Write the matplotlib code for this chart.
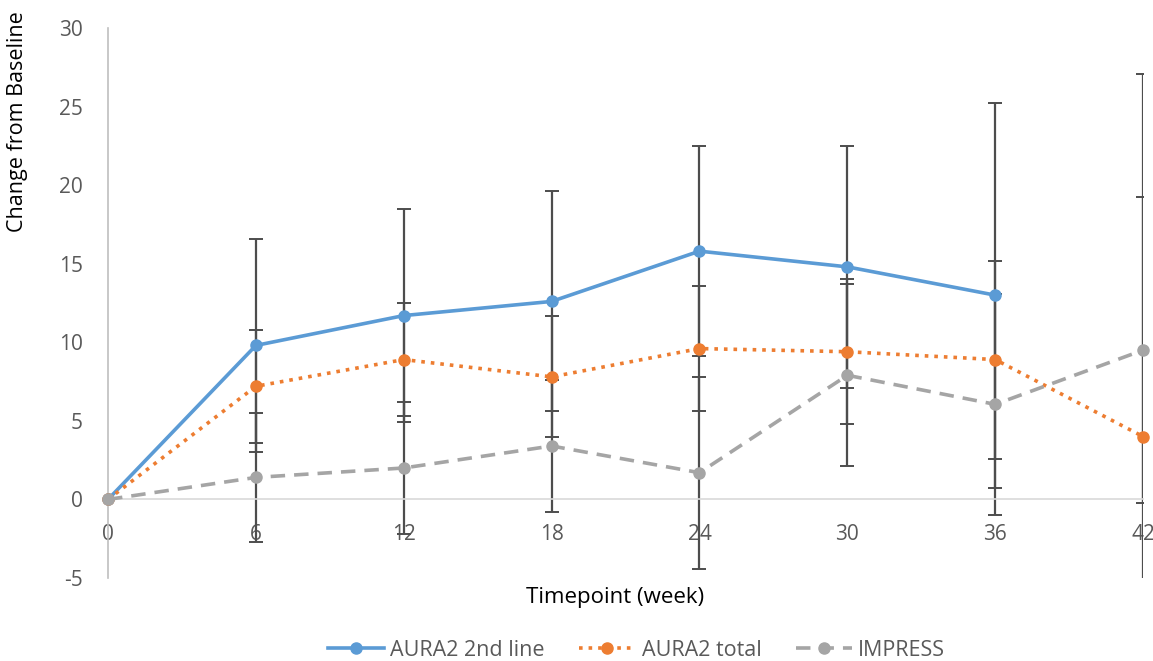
import matplotlib.pyplot as plt
import numpy as np

plt.rcParams['font.family'] = ['Open Sans', 'DejaVu Sans']
plt.rcParams['axes.unicode_minus'] = False

# semanas de seguimiento
semanas = [0, 6, 12, 18, 24, 30, 36, 42]

# AURA2 2nd line (no tiene dato en la semana 42)
aura2_2l     = [0, 9.8, 11.7, 12.6, 15.8, 14.8, 13.0]
aura2_2l_err = [0, 6.8, 6.8, 7.0, 6.7, 7.7, 12.25]

# AURA2 total
aura2_tot     = [0, 7.2, 8.9, 7.8, 9.6, 9.4, 8.9, 4.0]
aura2_tot_err = [0, 3.6, 3.6, 3.85, 4.0, 4.6, 6.3, 23.1]

# IMPRESS
impress     = [0, 1.4, 2.0, 3.4, 1.7, 7.9, 6.05, 9.5]
impress_err = [0, 4.1, 4.2, 4.2, 6.1, 5.8, 7.05, 9.75]

series = [
    ('AURA2 2nd line', aura2_2l, aura2_2l_err, '#5B9BD5', '-'),
    ('AURA2 total', aura2_tot, aura2_tot_err, '#ED7D31', ':'),
    ('IMPRESS', impress, impress_err, '#A5A5A5', (0, (4, 2.5))),
]

fig = plt.figure(figsize=(11.53, 6.61), dpi=100)
ax = fig.add_axes([0.0937, 0.1256, 0.8977, 0.832])

gris_txt = '#595959'

for nombre, y, err, color, estilo in series:
    x = semanas[:len(y)]
    # barras de error primero, las lineas van encima
    ax.errorbar(x, y, yerr=err, fmt='none', ecolor='#4D4D4D', elinewidth=1.6,
                capsize=5, capthick=1.4, zorder=2, clip_on=True)
    ax.plot(x, y, linestyle=estilo, color=color, lw=2.6, marker='o',
            markersize=8, label=nombre, zorder=3, clip_on=False)

ax.set_xlim(0, 42)
ax.set_ylim(-5, 30)
ax.set_xticks(semanas)
ax.set_yticks(np.arange(-5, 31, 5))

# el eje x cruza en cero
ax.spines['bottom'].set_position(('data', 0))
ax.spines['bottom'].set_color('#D9D9D9')
ax.spines['bottom'].set_linewidth(1.2)
ax.spines['left'].set_color('#BFBFBF')
ax.spines['left'].set_linewidth(1.2)
ax.spines['top'].set_visible(False)
ax.spines['right'].set_visible(False)

ax.tick_params(axis='x', length=0, pad=18, labelsize=15, labelcolor=gris_txt)
ax.tick_params(axis='y', length=0, pad=18, labelsize=15, labelcolor=gris_txt)

fig.text(615 / 1153, 1 - 598 / 661, 'Timepoint (week)', ha='center',
         va='center', fontsize=16, color='black')
fig.text(18 / 1153, 1 - 11 / 661, 'Change from Baseline', ha='center', va='top',
         rotation=90, fontsize=15.5, color='black')

leg = fig.legend(loc='center', bbox_to_anchor=(0.552, 1 - 650 / 661), ncol=3,
                 frameon=False, fontsize=15.5, handlelength=2.6, columnspacing=1.6,
                 handletextpad=0.3)
for t in leg.get_texts():
    t.set_color(gris_txt)

fig.savefig('out.png', dpi=100)
